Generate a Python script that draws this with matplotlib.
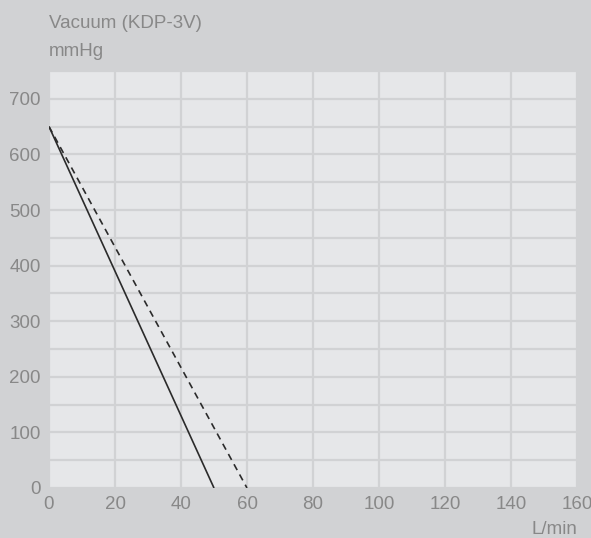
import matplotlib.pyplot as plt
from matplotlib.ticker import MultipleLocator

# flow (L/min) vs vacuum (mmHg)
solid_x = [0, 50]
solid_y = [650, 0]
dashed_x = [0, 60]
dashed_y = [650, 0]
x_ticks = [0, 20, 40, 60, 80, 100, 120, 140, 160]
y_ticks = [0, 100, 200, 300, 400, 500, 600, 700]

bg = '#d1d2d4'
panel = '#e6e7e9'
txt = '#888888'

plt.rcParams['font.family'] = ['Liberation Sans', 'DejaVu Sans']

fig = plt.figure(figsize=(5.91, 5.38), dpi=100, facecolor=bg)
ax = fig.add_axes([49 / 591, 1 - 488 / 538, 528 / 591, 417 / 538])
ax.set_facecolor(panel)

ax.plot(solid_x, solid_y, color='#2b2b2b', lw=1.2, solid_capstyle='butt')
ax.plot(dashed_x, dashed_y, color='#2b2b2b', lw=1.2, ls=(0, (4, 3)))

ax.set_xlim(0, 160)
ax.set_ylim(0, 750)
ax.set_xticks(x_ticks)
ax.set_yticks(y_ticks)
ax.yaxis.set_minor_locator(MultipleLocator(50))
ax.grid(True, which='both', color=bg, lw=1.6)
ax.set_axisbelow(True)
for s in ax.spines.values():
    s.set_visible(False)
ax.tick_params(which='both', length=0, colors=txt, labelsize=13.5)
ax.tick_params(axis='x', pad=6)
ax.tick_params(axis='y', pad=6)

fig.text(49 / 591, 1 - 24 / 538, 'Vacuum (KDP-3V)', color=txt, fontsize=13.5,
         ha='left', va='center')
fig.text(49 / 591, 1 - 52 / 538, 'mmHg', color=txt, fontsize=13.5,
         ha='left', va='center')
fig.text(577 / 591, 1 - 530 / 538, 'L/min', color=txt, fontsize=13.5,
         ha='right', va='center')

fig.savefig('out.png', dpi=100, facecolor=bg)
